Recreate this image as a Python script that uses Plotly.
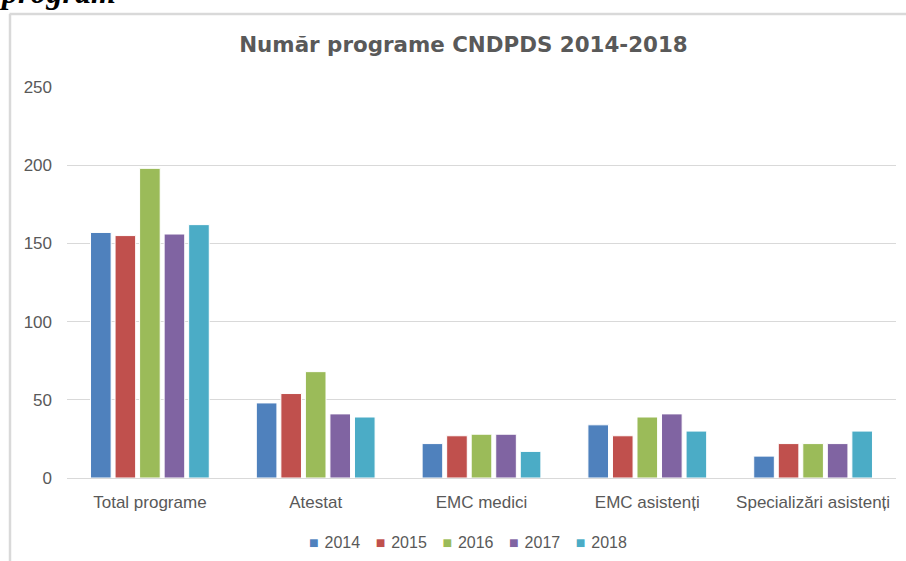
import plotly.graph_objects as go

categories = ["Total programe", "Atestat", "EMC medici", "EMC asistenți", "Specializări asistenți"]
years = ["2014", "2015", "2016", "2017", "2018"]
v2014 = [157, 48, 22, 34, 14]
v2015 = [155, 54, 27, 27, 22]
v2016 = [198, 68, 28, 39, 22]
v2017 = [156, 41, 28, 41, 22]
v2018 = [162, 39, 17, 30, 30]
series = [v2014, v2015, v2016, v2017, v2018]
colors = ["#4f81bd", "#c0504d", "#9bbb59", "#8064a2", "#4bacc6"]

W, H = 906, 561
ml, mr, mt, mb = 67, 10, 87, 83
pw = W - ml - mr
ph = H - mt - mb

def px_x(x):
    return (x - ml) / pw

def px_y(y):
    return 1 - (y - mt) / ph

fig = go.Figure()
for yr, vals, c in zip(years, series, colors):
    fig.add_trace(go.Bar(
        x=categories, y=vals, name=yr,
        marker=dict(color=c, line=dict(color="white", width=1)),
    ))

fig.update_layout(
    width=W, height=H,
    margin=dict(l=ml, r=mr, t=mt, b=mb, autoexpand=False),
    paper_bgcolor="white", plot_bgcolor="white",
    barmode="group", bargap=0.26, bargroupgap=0.16,
    font=dict(family="Liberation Sans, Arial", color="#595959", size=16),
    title=dict(text="<b>Număr programe CNDPDS 2014-2018</b>", x=463.5 / W, xanchor="center", xref="container",
               y=1 - 45 / H, yanchor="middle", yref="container",
               font=dict(family="DejaVu Sans", size=21.4, color="#595959")),
    xaxis=dict(showgrid=False, showline=False, ticks="", tickfont=dict(size=17, color="#595959"),
               ticklabelstandoff=12, automargin=False),
    yaxis=dict(range=[0, 250], dtick=50, showgrid=True, gridcolor="#d9d9d9", gridwidth=1,
               zeroline=True, zerolinecolor="#d9d9d9", zerolinewidth=1, showline=False,
               ticks="", tickfont=dict(size=17, color="#595959"), ticklabelstandoff=14,
               automargin=False),
    showlegend=False,
)

# legend row (drawn as text with coloured squares)
inner_gap = '\u00a0<span style="font-size:5px">\u00a0</span>'
outer_gap = '\u00a0\u00a0\u00a0<span style="font-size:8px">\u00a0</span>'
legend_text = outer_gap.join(
    f'<span style="color:{c}">■</span>{inner_gap}{yr}' for yr, c in zip(years, colors)
)
fig.add_annotation(text=legend_text, xref="paper", yref="paper",
                   x=px_x(468), xanchor="center", y=px_y(542), yanchor="middle",
                   showarrow=False, font=dict(size=16, color="#595959"))

# outer chart frame (partially out of view)
fig.add_shape(type="line", xref="paper", yref="paper",
              x0=px_x(9.5), x1=px_x(910), y0=px_y(14), y1=px_y(14),
              line=dict(color="#d9d9d9", width=2.5))
fig.add_shape(type="line", xref="paper", yref="paper",
              x0=px_x(10), x1=px_x(10), y0=px_y(14), y1=px_y(570),
              line=dict(color="#d9d9d9", width=2.5))

# cut-off document text above the chart
fig.add_annotation(text="<b><i>program</i></b>", xref="paper", yref="paper",
                   x=px_x(-3), xanchor="left", y=px_y(12), yanchor="bottom",
                   showarrow=False, font=dict(family="Liberation Serif", size=32, color="black"))

fig.write_html("out.html", config={"displayModeBar": False},
               post_script="document.body.style.margin='0';document.body.style.overflow='hidden';")
